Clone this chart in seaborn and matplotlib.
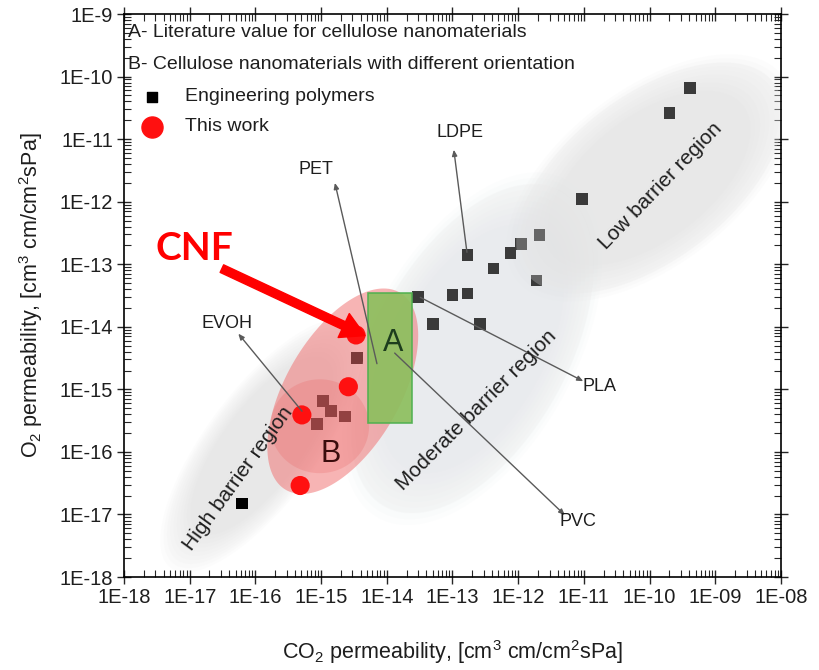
import numpy as np
import pandas as pd
import matplotlib
matplotlib.use("Agg")
import matplotlib.pyplot as plt
import seaborn as sns

# ---- data -------------------------------------------------------------
# Engineering polymers (CO2 permeability, O2 permeability)
poly_co2 = [6.3e-17, 1.07e-15, 1.4e-15, 8.7e-16, 2.3e-15, 3.5e-15,
            3.0e-14, 1.0e-13, 1.7e-13, 5.0e-14, 2.6e-13, 1.7e-13,
            4.2e-13, 7.6e-13, 1.1e-12, 2.1e-12, 1.9e-12, 9.3e-12,
            2.0e-10, 4.1e-10]
poly_o2 = [1.5e-17, 6.5e-16, 4.5e-16, 2.8e-16, 3.7e-16, 3.2e-15,
           3.0e-14, 3.2e-14, 3.4e-14, 1.1e-14, 1.1e-14, 1.4e-13,
           8.5e-14, 1.5e-13, 2.1e-13, 2.9e-13, 5.5e-14, 1.1e-12,
           2.6e-11, 6.5e-11]

# CNF films of this work
cnf_co2 = [4.8e-16, 5.1e-16, 2.6e-15, 3.4e-15]
cnf_o2 = [2.9e-17, 3.9e-16, 1.1e-15, 7.4e-15]

# Literature window for cellulose nanomaterials (region A)
lit_co2_range = [5.1e-15, 2.4e-14]
lit_o2_range = [2.9e-16, 3.5e-14]

x_ticklabels = ["1E-18", "1E-17", "1E-16", "1E-15", "1E-14", "1E-13",
                "1E-12", "1E-11", "1E-10", "1E-09", "1E-08"]
y_ticklabels = ["1E-18", "1E-17", "1E-16", "1E-15", "1E-14", "1E-13",
                "1E-12", "1E-11", "1E-10", "1E-9"]

# ---- style ------------------------------------------------------------
sns.set_style("ticks")
plt.rcParams["font.family"] = ["Liberation Sans", "DejaVu Sans"]
plt.rcParams["mathtext.fontset"] = "custom"
plt.rcParams["mathtext.rm"] = "Liberation Sans"
TXT = "#1e1e1e"

fig = plt.figure(figsize=(8.19, 6.70), dpi=100)
ax = fig.add_axes([0.1514, 0.1388, 0.8022, 0.8403])
ax.set_xscale("log")
ax.set_yscale("log")
ax.set_xlim(1e-18, 1e-8)
ax.set_ylim(1e-18, 1e-9)


def ellipse_xy(cx, cy, a, b, ang, scale=1.0, n=200):
    """Ellipse outline in decades (log10 space) mapped back to values."""
    t = np.linspace(0, 2 * np.pi, n)
    th = np.deg2rad(ang)
    ex = a * scale * np.cos(t)
    ey = b * scale * np.sin(t)
    lx = cx + ex * np.cos(th) - ey * np.sin(th)
    ly = cy + ex * np.sin(th) + ey * np.cos(th)
    return 10 ** lx, 10 ** ly


def soft_ellipse(cx, cy, a, b, ang, color, z, layers=10, alpha=0.055,
                 s0=1.02, s1=0.72):
    for s in np.linspace(s0, s1, layers):
        x, y = ellipse_xy(cx, cy, a, b, ang, s)
        ax.fill(x, y, color=color, alpha=alpha, lw=0, zorder=z)


# barrier regions (soft grey backgrounds)
regions = {
    "high": (-15.9, -15.9, 2.35, 0.85, 55, "#d4d4d4"),
    "moderate": (-12.7, -14.35, 3.0, 1.55, 63, "#d6dbe3"),
    "low": (-10.0, -11.62, 2.55, 1.35, 40, "#d4d4d4"),
}
for cx, cy, a, b, ang, col in regions.values():
    soft_ellipse(cx, cy, a, b, ang, col, z=1)

# engineering polymers
df_poly = pd.DataFrame({"co2": poly_co2, "o2": poly_o2})
sns.scatterplot(data=df_poly, x="co2", y="o2", marker="s", s=70,
                color="black", edgecolor="none", ax=ax, zorder=2)

# haze of the moderate / low regions lying over the polymer markers
for key in ("moderate", "low"):
    cx, cy, a, b, ang, col = regions[key]
    x, y = ellipse_xy(cx, cy, a, b, ang, 0.95)
    ax.fill(x, y, color="#ebebeb", alpha=0.25, lw=0, zorder=2.5)

# region B: cellulose nanomaterials with different orientation
x, y = ellipse_xy(-14.67, -15.03, 1.8, 0.88, 62)
ax.fill(x, y, color="#f07070", alpha=0.52, lw=0, zorder=3)
x, y = ellipse_xy(-15.02, -15.59, 0.75, 0.75, 0)
ax.fill(x, y, color="#e85a5a", alpha=0.22, lw=0, zorder=3)

# region A: literature values
ax.fill([lit_co2_range[0], lit_co2_range[1], lit_co2_range[1], lit_co2_range[0]],
        [lit_o2_range[0], lit_o2_range[0], lit_o2_range[1], lit_o2_range[1]],
        facecolor="#8dbf5e", edgecolor="#4fb04f", alpha=0.92, lw=1.2, zorder=3.5)

# this work
df_cnf = pd.DataFrame({"co2": cnf_co2, "o2": cnf_o2})
sns.scatterplot(data=df_cnf, x="co2", y="o2", marker="o", s=190,
                color="#ff1010", edgecolor="none", ax=ax, zorder=4)


def P(lx, ly):
    return 10 ** lx, 10 ** ly


# polymer call-outs
lead = dict(arrowstyle="-|>,head_length=0.35,head_width=0.15",
            color="#5a5a5a", lw=1.0, shrinkA=0, shrinkB=0)
callouts = [
    ("PET", (-15.08, -11.49), (-14.15, -14.59), (-14.79, -11.70)),
    ("LDPE", (-12.89, -10.90), (-12.78, -12.81), (-12.98, -11.17)),
    ("EVOH", (-16.43, -13.94), (-15.29, -15.35), (-16.26, -14.11)),
    ("PLA", (-10.76, -14.95), (-13.49, -13.53), (-11.01, -14.87)),
    ("PVC", (-11.09, -17.12), (-13.88, -14.42), (-11.29, -17.01)),
]
for name, lab, start, end in callouts:
    ax.annotate("", xy=P(*end), xytext=P(*start), arrowprops=lead, zorder=5)
    ax.text(*P(*lab), name, fontsize=13, color=TXT, ha="center",
            va="center", zorder=6)

# region labels
ax.text(*P(-13.91, -14.26), "A", fontsize=22, color="#1d3d1d",
        ha="center", va="center", zorder=6)
ax.text(*P(-14.86, -16.03), "B", fontsize=22, color="#3a0c0c",
        ha="center", va="center", zorder=6)
ax.text(*P(-9.83, -11.75), "Low barrier region", fontsize=15, color=TXT,
        rotation=46, ha="center", va="center", rotation_mode="anchor", zorder=6)
ax.text(*P(-12.64, -15.33), "Moderate barrier region", fontsize=15,
        color=TXT, rotation=45, ha="center", va="center",
        rotation_mode="anchor", zorder=6)
ax.text(*P(-16.26, -16.43), "High barrier region", fontsize=15, color=TXT,
        rotation=54, ha="center", va="center", rotation_mode="anchor", zorder=6)

# CNF highlight
ax.annotate("", xy=P(-14.33, -14.14), xytext=P(-16.51, -13.07),
            arrowprops=dict(facecolor="#ff0000", edgecolor="#ff0000",
                            width=6, headwidth=19, headlength=17, shrink=0),
            zorder=7)
ax.text(*P(-16.93, -12.75), "CNF", fontsize=28, fontweight="bold",
        color="#ff0000", family=["Lato", "DejaVu Sans"], ha="center",
        va="center", zorder=7)

# key in the upper-left corner
ax.text(0.006, 0.967, "A- Literature value for cellulose nanomaterials",
        transform=ax.transAxes, fontsize=14, color=TXT, va="center", zorder=8)
ax.text(0.006, 0.910, "B- Cellulose nanomaterials with different orientation",
        transform=ax.transAxes, fontsize=14, color=TXT, va="center", zorder=8)
ax.scatter([0.043], [0.853], transform=ax.transAxes, marker="s", s=45,
           color="black", zorder=8, clip_on=False)
ax.scatter([0.043], [0.800], transform=ax.transAxes, marker="o", s=230,
           color="#ff1010", zorder=8, clip_on=False)
ax.text(0.093, 0.853, "Engineering polymers", transform=ax.transAxes,
        fontsize=14, color=TXT, va="center", zorder=8)
ax.text(0.093, 0.800, "This work", transform=ax.transAxes,
        fontsize=14, color=TXT, va="center", zorder=8)

# axes, ticks and labels
ax.set_xticks([10.0 ** e for e in range(-18, -7)])
ax.set_xticklabels(x_ticklabels)
ax.set_yticks([10.0 ** e for e in range(-18, -8)])
ax.set_yticklabels(y_ticklabels)
ax.xaxis.set_minor_locator(matplotlib.ticker.LogLocator(base=10, subs=np.arange(2, 10), numticks=100))
ax.yaxis.set_minor_locator(matplotlib.ticker.LogLocator(base=10, subs=np.arange(2, 10), numticks=100))
ax.xaxis.set_minor_formatter(matplotlib.ticker.NullFormatter())
ax.yaxis.set_minor_formatter(matplotlib.ticker.NullFormatter())
ax.tick_params(which="major", direction="inout", length=10, width=1.0,
               top=True, right=True, labelsize=14.5, labelcolor=TXT, pad=3)
ax.tick_params(which="minor", direction="in", length=5, width=0.8,
               top=True, right=True)
for sp in ax.spines.values():
    sp.set_color("black")
    sp.set_linewidth(1.2)

ax.set_xlabel(r"CO$\mathregular{_2}$ permeability, [cm$\mathregular{^3}$ cm/cm$\mathregular{^2}$sPa]",
              fontsize=15.5, color=TXT, labelpad=22)
ax.set_ylabel(r"O$\mathregular{_2}$ permeability, [cm$\mathregular{^3}$ cm/cm$\mathregular{^2}$sPa]",
              fontsize=15.5, color=TXT, labelpad=10)

fig.savefig("out.png", dpi=100)
